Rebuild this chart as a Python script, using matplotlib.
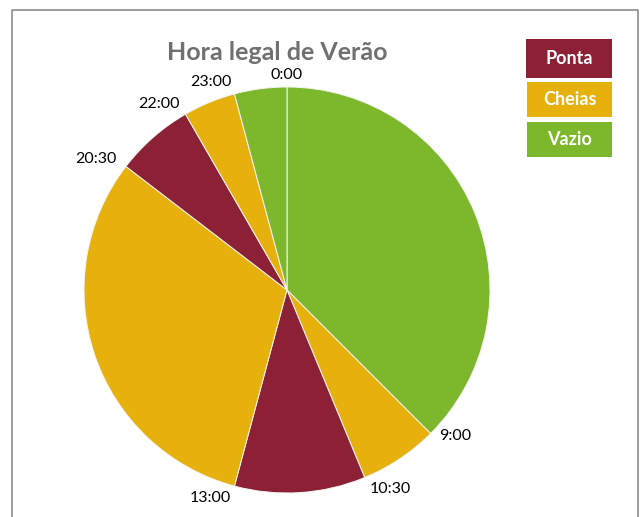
import numpy as np
import matplotlib.pyplot as plt
from matplotlib.patches import Rectangle

plt.rcParams['font.family'] = ['Lato', 'DejaVu Sans']

# tariff periods over the 24 h clock, summer legal time
start_hours = [0, 9, 10.5, 13, 20.5, 22, 23]
start_labels = ['0:00', '9:00', '10:30', '13:00', '20:30', '22:00', '23:00']
periods = ['Vazio', 'Cheias', 'Ponta', 'Cheias', 'Ponta', 'Cheias', 'Vazio']
legend_names = ['Ponta', 'Cheias', 'Vazio']
colors = {'Ponta': '#8C2136', 'Cheias': '#E6B10C', 'Vazio': '#7DB82C'}

durations = np.diff(start_hours + [24])

W, H = 641, 517
fig = plt.figure(figsize=(W / 100, H / 100), dpi=100)
ax = fig.add_axes([0, 0, 1, 1])

cx, cy, R = 287, H - 290, 203
ax.pie(durations, colors=[colors[p] for p in periods], startangle=90, counterclock=False,
       center=(cx, cy), radius=R, wedgeprops=dict(edgecolor='#f4f4f4', linewidth=0.7))
ax.set_xlim(0, W)
ax.set_ylim(0, H)
ax.set_aspect('equal')
ax.axis('off')

# hour labels at the start of each period
for h, lab in zip(start_hours, start_labels):
    th = np.deg2rad(h / 24 * 360)
    s, c = np.sin(th), np.cos(th)
    x = cx + 1.06 * R * s
    y = cy + 1.06 * R * c
    if abs(s - c) < 1e-6 or abs(s + c) < 1e-6:
        # diagonal labels sit closer to the edge
        y = cy + 1.015 * R * c
    ha = 'center' if abs(s) < 1e-6 else ('left' if s > 0 else 'right')
    ax.text(x, y, lab, ha=ha, va='center', fontsize=11.5, color='black')

ax.text(277, H - 52, 'Hora legal de Verão', ha='center', va='center',
        fontsize=18, fontweight='bold', color='#707070')

# legend boxes
boxes = [(526, 39, 612, 78), (527, 82, 612, 117), (527, 122, 612, 157)]
for name, (x0, y0, x1, y1) in zip(legend_names, boxes):
    ax.add_patch(Rectangle((x0, H - y1), x1 - x0, y1 - y0, color=colors[name], lw=0))
    ax.text((x0 + x1) / 2, H - (y0 + y1) / 2, name, ha='center', va='center',
            fontsize=13, fontweight='bold', color='white')

# chart area border
ax.plot([12, 12, 638, 638], [0, H - 10, H - 10, 0], color='#8c8c8c', lw=1.2, clip_on=False)

fig.savefig('out.png', dpi=100)
